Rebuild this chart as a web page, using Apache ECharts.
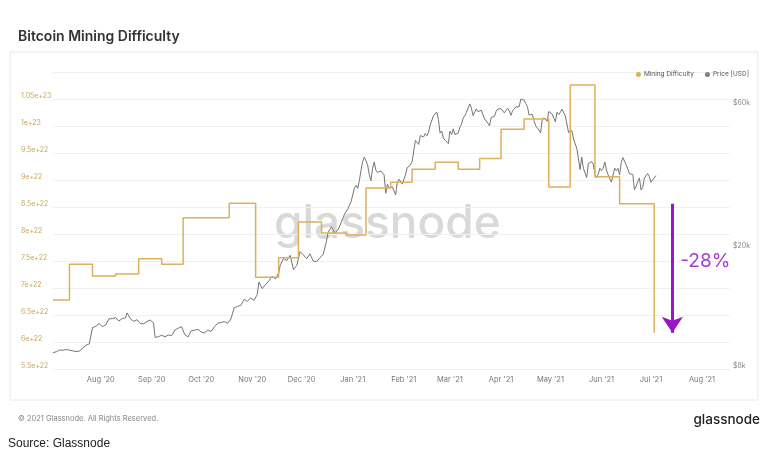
<!DOCTYPE html>
<html>
<head>
<meta charset="utf-8">
<script src="https://cdn.jsdelivr.net/npm/echarts@6/dist/echarts.min.js"></script>
<style>
html,body{margin:0;padding:0;background:#fff;}
#chart{width:772px;height:469px;}
</style>
</head>
<body>
<div id="chart"></div>
<script>
// ---- data ----
const difficultyDates = ['2020-07-03','2020-07-13','2020-07-27','2020-08-10','2020-08-24','2020-09-07','2020-09-20','2020-10-18','2020-11-03','2020-11-17','2020-11-29','2020-12-13','2020-12-28','2021-01-09','2021-01-24','2021-02-06','2021-02-20','2021-03-06','2021-03-19','2021-04-01','2021-04-15','2021-04-30','2021-05-13','2021-05-28','2021-06-12','2021-07-03'];
const difficultyValues = [6.78e22,7.44e22,7.22e22,7.26e22,7.54e22,7.44e22,8.30e22,8.57e22,7.20e22,7.56e22,8.22e22,8.02e22,7.98e22,8.85e22,8.96e22,9.20e22,9.33e22,9.20e22,9.40e22,9.94e22,1.013e23,8.87e22,1.076e23,9.06e22,8.56e22,6.17e22];

// price 2020 (every ~2 days)
const price2020Dates = ['2020-07-03','2020-07-05','2020-07-07','2020-07-09','2020-07-11','2020-07-13','2020-07-15','2020-07-17','2020-07-19','2020-07-21','2020-07-23','2020-07-25','2020-07-27','2020-07-29','2020-07-31',
'2020-08-02','2020-08-04','2020-08-06','2020-08-08','2020-08-10','2020-08-12','2020-08-14','2020-08-16','2020-08-17','2020-08-19','2020-08-21','2020-08-23','2020-08-25','2020-08-27','2020-08-29','2020-08-31',
'2020-09-02','2020-09-03','2020-09-05','2020-09-07','2020-09-09','2020-09-11','2020-09-13','2020-09-15','2020-09-17','2020-09-19','2020-09-21','2020-09-23','2020-09-25','2020-09-27','2020-09-29',
'2020-10-01','2020-10-03','2020-10-05','2020-10-07','2020-10-09','2020-10-11','2020-10-13','2020-10-15','2020-10-17','2020-10-19','2020-10-21','2020-10-23','2020-10-25','2020-10-27','2020-10-29','2020-10-31',
'2020-11-02','2020-11-04','2020-11-05','2020-11-07','2020-11-09','2020-11-11','2020-11-13','2020-11-15','2020-11-17','2020-11-18','2020-11-20','2020-11-22','2020-11-24','2020-11-26','2020-11-28','2020-11-30',
'2020-12-02','2020-12-04','2020-12-06','2020-12-08','2020-12-10','2020-12-12','2020-12-14','2020-12-16','2020-12-17','2020-12-19','2020-12-21','2020-12-23','2020-12-25','2020-12-27','2020-12-29','2020-12-31'];
const price2020Values = [9070,9130,9250,9240,9290,9240,9200,9150,9180,9380,9600,9700,11000,11100,11350,
11070,11220,11770,11770,11880,11560,11780,11850,12300,11760,11530,11680,11350,11320,11520,11650,
11400,10200,10250,10370,10240,10390,10330,10790,10940,11080,10420,10240,10740,10780,10840,
10620,10550,10790,10670,11060,11380,11430,11510,11360,11750,12800,12930,13030,13650,13460,13800,
13560,14150,15590,14830,15300,15700,16300,15980,16720,17800,18680,18400,19150,17150,17730,19700,
19200,18650,19360,18320,18250,18800,19270,21300,22800,23870,22700,23240,24660,26280,27360,28950];

// price 2021 (daily from 2021-01-01)
const price2021Start = '2021-01-01';
const price2021Jan = [29370,32130,32780,31970,33990,36820,39370,40700,40250,38360,35550,33920,37310,39190,36830,36180,35800,36580,36060,35510,30830,33000,32080,32260,32370,32570,30430,33470,34320,34290,33110];
const price2021Feb = [33540,35510,37470,36930,38290,39260,38900,46200,46480,44840,47990,47910,47500,48720,47940,49200,52150,51680,55890,55920,57490,54210,48890,49680,47070,46340,46190,45140];
const price2021Mar = [49630,48380,50540,48370,48760,48880,51210,52380,54880,55860,57330,57180,61200,59420,55960,56770,58910,57660,58350,58310,57520,54530,54210,52770,51700,55140,55970,55640,57810,58790,58920];
const price2021Apr = [59020,59040,57110,58190,59130,57990,56050,58080,58090,59770,60200,59890,63500,63110,62980,61350,60050,56210,55720,56470,53910,51760,51090,50050,49000,54020,55030,54820,53560,57750];
const price2021May = [57830,56630,57200,53330,57420,56400,57360,58800,58230,55860,56700,49150,49720,49880,46760,46430,43540,42910,36960,40730,37300,37530,34770,38710,38490,39290,38530,35660,34660,35680,37330];
const price2021Jun = [36680,37330,39190,36870,35520,35800,33570,33370,37350,36700,37340,35550,39100,40520,40140,38350,38090,35820,35480,35600,31680,32510,33680,34660,31590,32160,34650,34430,35870,35040];
const price2021Jul = [33570,33900,34670,35290];

const leftTicks = [5.5e22,6e22,6.5e22,7e22,7.5e22,8e22,8.5e22,9e22,9.5e22,1e23,1.05e23];
const rightTicks = [8000,20000,60000];
const rightTickLabels = ['$8k','$20k','$60k'];
const monthNames = ['Jan','Feb','Mar','Apr','May','Jun','Jul','Aug','Sep','Oct','Nov','Dec'];
const dropLabel = '-28%';
const dropPrev = 8.56e22, dropNew = 6.17e22;

// ---- chart ----
const chart = echarts.init(document.getElementById('chart'), null, {renderer:'canvas'});
const ts = d => new Date(d + 'T00:00:00Z').getTime();
const DAY = 86400000;

const priceData = price2020Dates.map((d,i) => [ts(d), price2020Values[i]]);
const daily2021 = [].concat(price2021Jan, price2021Feb, price2021Mar, price2021Apr, price2021May, price2021Jun, price2021Jul);
daily2021.forEach((v,i) => priceData.push([ts(price2021Start) + i*DAY, v]));

const option = {
  animation:false,
  backgroundColor:'#fff',
  textStyle:{fontFamily:'Inter, "Noto Sans", sans-serif'},
  title:{
    text:'Bitcoin Mining Difficulty',
    left:13, top:25,
    textStyle:{fontSize:14, fontWeight:600, color:'#333', fontFamily:'Inter'}
  },
  legend:{
    right:18, top:66,
    itemWidth:5, itemHeight:5, itemGap:11,
    icon:'circle',
    textStyle:{fontSize:6.5, color:'#555', padding:[0,0,0,-2]},
    data:['Mining Difficulty','Price [USD]']
  },
  grid:{left:53, right:42, top:72, bottom:100, containLabel:false},
  xAxis:{
    type:'time',
    min:ts('2020-07-03'), max:ts('2021-08-18'),
    minInterval:28*DAY, maxInterval:31*DAY,
    axisLine:{show:false},
    axisTick:{show:false},
    splitLine:{show:false},
    axisLabel:{
      margin:7,
      fontSize:7.5, color:'#777',
      showMinLabel:false, showMaxLabel:false,
      formatter: v => { const d = new Date(v); return monthNames[d.getUTCMonth()] + " '" + String(d.getUTCFullYear()).slice(2); }
    }
  },
  yAxis:[
    {
      type:'value',
      min:5.5e22, max:1.1e23, interval:5e21,
      axisLine:{show:false}, axisTick:{show:false},
      splitLine:{showMaxLine:false, lineStyle:{color:'#f0f0f0', width:1}},
      axisLabel:{
        align:'left', margin:32, verticalAlign:'bottom',
        fontSize:7, color:'#c9a55c',
        formatter: v => { const n = Number(v.toPrecision(3)); return leftTicks.some(t => Math.abs(t - n) < 1e18) ? n.toExponential() : ''; }
      }
    },
    {
      type:'log',
      min:8000, max:78180,
      axisLine:{show:false}, axisTick:{show:false},
      splitLine:{show:false},
      axisLabel:{show:false}
    },
    {
      type:'value',
      position:'right',
      min:Math.log10(8000), max:Math.log10(78180),
      axisLine:{show:false}, axisTick:{show:false},
      splitLine:{show:false},
      axisLabel:{
        customValues: rightTicks.map(t => Math.log10(t)),
        margin:3, verticalAlign:'bottom',
        fontSize:7, color:'#888',
        formatter: v => { const i = rightTicks.findIndex(t => Math.abs(Math.log10(t) - v) < 0.005); return i >= 0 ? rightTickLabels[i] : ''; }
      }
    }
  ],
  graphic:[
    {type:'rect', shape:{x:10, y:52, width:748, height:348}, style:{fill:'none', stroke:'#e8e8e8', lineWidth:1}, silent:true, z:-10},
    {type:'text', left:274, top:201, style:{text:'glassnode', fontSize:46, fontWeight:500, fill:'#d9d9d9', fontFamily:'Inter'}, silent:true, z:-5},
    {type:'text', left:18, top:415, style:{text:'© 2021 Glassnode. All Rights Reserved.', fontSize:7.5, fill:'#888', fontFamily:'Inter'}},
    {type:'text', right:12, top:413, style:{text:'glassnode', fontSize:13.5, fontWeight:500, fill:'#222', fontFamily:'Inter'}},
    {type:'text', left:8, top:438, style:{text:'Source: Glassnode', fontSize:12, fill:'#222', fontFamily:'"Liberation Sans", Arial, sans-serif'}}
  ],
  series:[
    {
      name:'Mining Difficulty',
      type:'line',
      step:'end',
      yAxisIndex:0,
      symbol:'none',
      color:'#ddb05c',
      lineStyle:{width:1.5, color:'#ddb05c'},
      data: difficultyDates.map((d,i) => [ts(d), difficultyValues[i]]),
      z:3,
      markLine:{
        silent:true,
        symbol:['none','arrow'],
        symbolSize:[16,16],
        lineStyle:{color:'#9b14cc', width:3, type:'solid'},
        label:{show:false},
        data:[[{coord:[ts('2021-07-14'), dropPrev]},{coord:[ts('2021-07-14'), dropNew]}]]
      },
      markPoint:{
        silent:true,
        symbol:'circle', symbolSize:0,
        label:{show:true, formatter:dropLabel, fontSize:19, color:'#a53ccf', fontFamily:'Inter'},
        data:[{coord:[ts('2021-08-03'), 7.5e22]}]
      }
    },
    {
      name:'Price [USD]',
      type:'line',
      yAxisIndex:1,
      symbol:'none',
      color:'#808080',
      lineStyle:{width:1, color:'#747474'},
      data: priceData,
      z:2
    }
  ]
};
chart.setOption(option);
</script>
</body>
</html>
